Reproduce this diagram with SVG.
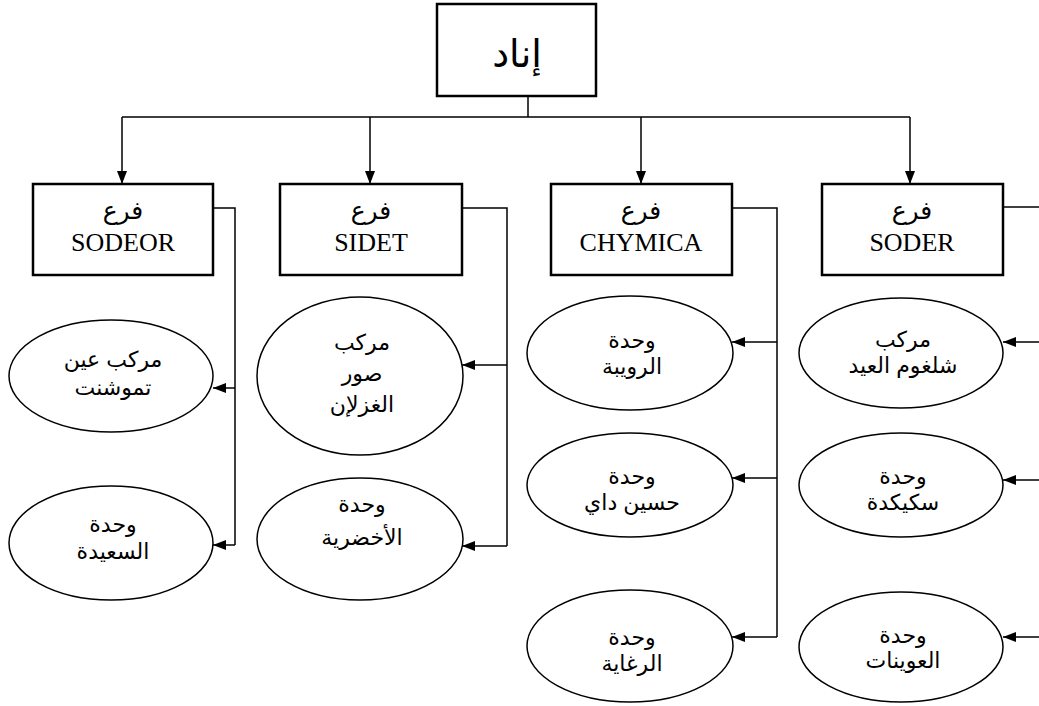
<svg xmlns="http://www.w3.org/2000/svg" width="1039" height="706" viewBox="0 0 1039 706">
<style>
.box{fill:#fff;stroke:#000;stroke-width:2.5}
.ell{fill:#fff;stroke:#000;stroke-width:1.5}
.ln{fill:none;stroke:#000;stroke-width:1.5}
.ar{font-family:"Liberation Sans","DejaVu Sans",sans-serif;font-size:22px;text-anchor:middle;fill:#000}
.bx{font-family:"Liberation Serif","DejaVu Serif","DejaVu Sans",serif;font-size:26px;text-anchor:middle;fill:#000}
.fr{font-family:"DejaVu Sans",sans-serif;font-size:25px;text-anchor:middle;fill:#000}
.top{font-family:"Liberation Sans","DejaVu Sans",sans-serif;font-size:38px;text-anchor:middle;fill:#000}
</style>
<defs>
<marker id="arr" viewBox="0 0 13 10" refX="13" refY="5" markerWidth="13" markerHeight="10" markerUnits="userSpaceOnUse" orient="auto">
<path d="M0,0 L13,5 L0,10 Z" fill="#000"/>
</marker>
</defs>
<rect width="1039" height="706" fill="#fff"/>
<g id="connectors">
<path class="ln" d="M528,96 V117 M122,117 H910"/>
<path class="ln" d="M122,117 V184" marker-end="url(#arr)"/>
<path class="ln" d="M370,117 V184" marker-end="url(#arr)"/>
<path class="ln" d="M641,117 V184" marker-end="url(#arr)"/>
<path class="ln" d="M910,117 V184" marker-end="url(#arr)"/>
<path class="ln" d="M213,208 H235 V545"/>
<path class="ln" d="M235,388 H213" marker-end="url(#arr)"/>
<path class="ln" d="M235,545 H213" marker-end="url(#arr)"/>
<path class="ln" d="M462,208 H507 V546"/>
<path class="ln" d="M507,365 H462" marker-end="url(#arr)"/>
<path class="ln" d="M507,546 H462" marker-end="url(#arr)"/>
<path class="ln" d="M732,208 H777 V637"/>
<path class="ln" d="M777,342 H732" marker-end="url(#arr)"/>
<path class="ln" d="M777,478 H732" marker-end="url(#arr)"/>
<path class="ln" d="M777,637 H732" marker-end="url(#arr)"/>
<path class="ln" d="M1003,207 H1045"/>
<path class="ln" d="M1045,342 H1003" marker-end="url(#arr)"/>
<path class="ln" d="M1045,480 H1003" marker-end="url(#arr)"/>
<path class="ln" d="M1045,637 H1003" marker-end="url(#arr)"/>
</g>
<g id="root">
<rect class="box" x="437" y="4" width="159" height="92"/>
<text class="top" x="517" y="67">إناد</text>
</g>
<g id="sodeor">
<rect class="box" x="33" y="184" width="180" height="91"/>
<text class="fr" x="123" y="219">فرع</text>
<text class="bx" x="123" y="251">SODEOR</text>
</g>
<g id="sidet">
<rect class="box" x="280" y="184" width="182" height="91"/>
<text class="fr" x="371" y="219">فرع</text>
<text class="bx" x="371" y="251">SIDET</text>
</g>
<g id="chymica">
<rect class="box" x="551" y="184" width="181" height="91"/>
<text class="fr" x="641" y="219">فرع</text>
<text class="bx" x="641" y="251">CHYMICA</text>
</g>
<g id="soder">
<rect class="box" x="822" y="184" width="181" height="91"/>
<text class="fr" x="912" y="219">فرع</text>
<text class="bx" x="912" y="251">SODER</text>
</g>
<g id="ain-temouchent">
<ellipse class="ell" cx="111" cy="376" rx="102" ry="56"/>
<text class="ar" x="113" y="367">مركب عين</text>
<text class="ar" x="113" y="395">تموشنت</text>
</g>
<g id="saida">
<ellipse class="ell" cx="111" cy="543" rx="102" ry="57"/>
<text class="ar" x="113" y="532">وحدة</text>
<text class="ar" x="113" y="559">السعيدة</text>
</g>
<g id="sour-el-ghozlane">
<ellipse class="ell" cx="360" cy="376" rx="103" ry="79"/>
<text class="ar" x="362" y="350">مركب</text>
<text class="ar" x="362" y="381">صور</text>
<text class="ar" x="362" y="412">الغزلإن</text>
</g>
<g id="lakhdaria">
<ellipse class="ell" cx="360" cy="539" rx="103" ry="61"/>
<text class="ar" x="362" y="512">وحدة</text>
<text class="ar" x="362" y="545">الأخضرية</text>
</g>
<g id="rouiba">
<ellipse class="ell" cx="630" cy="353" rx="103" ry="57"/>
<text class="ar" x="632" y="348">وحدة</text>
<text class="ar" x="632" y="374">الرويبة</text>
</g>
<g id="hussein-dey">
<ellipse class="ell" cx="630" cy="485" rx="103" ry="52"/>
<text class="ar" x="632" y="484">وحدة</text>
<text class="ar" x="632" y="510">حسين داي</text>
</g>
<g id="reghaia">
<ellipse class="ell" cx="630" cy="646" rx="103" ry="56"/>
<text class="ar" x="632" y="645">وحدة</text>
<text class="ar" x="632" y="671">الرغاية</text>
</g>
<g id="chelghoum-laid">
<ellipse class="ell" cx="901" cy="353" rx="102" ry="55"/>
<text class="ar" x="903" y="347">مركب</text>
<text class="ar" x="903" y="373">شلغوم العيد</text>
</g>
<g id="skikda">
<ellipse class="ell" cx="901" cy="485" rx="102" ry="52"/>
<text class="ar" x="903" y="484">وحدة</text>
<text class="ar" x="903" y="510">سكيكدة</text>
</g>
<g id="el-aouinet">
<ellipse class="ell" cx="901" cy="647" rx="102" ry="55"/>
<text class="ar" x="903" y="643">وحدة</text>
<text class="ar" x="903" y="668">العوينات</text>
</g>
</svg>
